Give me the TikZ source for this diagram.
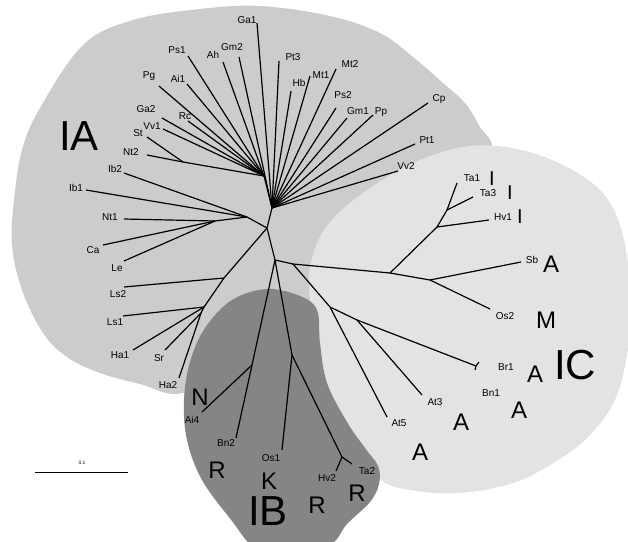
\documentclass[tikz,border=0pt]{standalone}
\usepackage{fontspec}
\setmainfont{Liberation Sans}
\definecolor{regA}{gray}{0.80}
\definecolor{regC}{gray}{0.89}
\definecolor{regB}{gray}{0.52}
\begin{document}
\begin{tikzpicture}[x=1pt, y=-1pt, line width=1.2pt,
  lab/.style={font=\fontsize{10}{10}\selectfont, inner sep=0pt},
  big/.style={font=\fontsize{24}{24}\selectfont, inner sep=0pt},
  bar/.style={font=\fontsize{20}{20}\selectfont, inner sep=0pt},
  grp/.style={font=\fontsize{42}{42}\selectfont, inner sep=0pt}]
\useasboundingbox (0,0) rectangle (628,541);
\clip (0,0) rectangle (628,541);
\fill[regA] plot[smooth cycle, tension=0.6] coordinates {(200,9) (260,6) (330,16) (380,33) (413,57) (443,83) (465,103) (480,127) (492,150) (470,200) (380,250) (335,300) (250,360) (183,393) (140,384) (100,373) (67,357) (43,333) (22,290) (12,245) (14,200) (22,150) (40,108) (83,45) (133,20)};
\fill[regC] plot[smooth cycle, tension=0.6] coordinates {(310,300) (312,258) (330,222) (370,188) (420,160) (470,146) (517,149) (563,165) (600,190) (620,225) (630,280) (630,333) (617,395) (590,435) (555,462) (513,483) (460,493) (410,490) (378,478) (350,440) (325,380)};
\fill[regB] plot[smooth cycle, tension=0.6] coordinates {(184,400) (190,362) (205,328) (232,300) (267,289) (300,296) (317,310) (320,343) (327,383) (347,422) (365,448) (378,466) (379,484) (370,502) (347,524) (330,545) (290,556) (255,548) (232,521) (202,480) (187,440)};
\coordinate (n0) at (267,228);
\coordinate (u1) at (272,208);
\coordinate (u2) at (264,176);
\coordinate (s1) at (183,162);
\coordinate (l1) at (247,217);
\coordinate (l2) at (215,221);
\coordinate (p1) at (224,278);
\coordinate (p2) at (204,307);
\coordinate (p3) at (201,313);
\coordinate (n1) at (275,260);
\coordinate (b1) at (252,365);
\coordinate (b2) at (292,355);
\coordinate (b3) at (342,457);
\coordinate (c0) at (293,264);
\coordinate (c1) at (390,273);
\coordinate (c2) at (437,227);
\coordinate (c2b) at (447,210);
\coordinate (c4) at (430,280);
\coordinate (c3) at (330,307);
\coordinate (c5) at (357,320);
\coordinate (c6) at (476,366);
\draw[](n0) -- (u1);
\draw[](u1) -- (u2);
\draw[](u2) -- (s1);
\draw[](n0) -- (l1);
\draw[](l1) -- (l2);
\draw[](n0) -- (p1);
\draw[](p1) -- (p2);
\draw[](p2) -- (p3);
\draw[](n0) -- (n1);
\draw[](n1) -- (b1);
\draw[](n1) -- (b2);
\draw[](b2) -- (b3);
\draw[](n1) -- (c0);
\draw[](c0) -- (c1);
\draw[](c1) -- (c2);
\draw[](c2) -- (c2b);
\draw[](c1) -- (c4);
\draw[](c0) -- (c3);
\draw[](c3) -- (c5);
\draw[](c5) -- (c6);
\coordinate (tGa1) at (257,23);
\node[lab] (Ga1) at (247,20) {Ga1};
\draw[](u1) -- (tGa1);
\coordinate (tGm2) at (239,57);
\node[lab] (Gm2) at (232,47) {Gm2};
\draw[](u1) -- (tGm2);
\coordinate (tPt3) at (279,61);
\node[lab] (Pt3) at (293,57) {Pt3};
\draw[](u1) -- (tPt3);
\coordinate (tHb) at (291,91);
\node[lab] (Hb) at (299,83) {Hb};
\draw[](u1) -- (tHb);
\coordinate (tMt1) at (310,76);
\node[lab] (Mt1) at (321,75) {Mt1};
\draw[](u1) -- (tMt1);
\coordinate (tMt2) at (336,69);
\node[lab] (Mt2) at (350,64) {Mt2};
\draw[](u1) -- (tMt2);
\coordinate (tPs2) at (336,108);
\node[lab] (Ps2) at (343,95) {Ps2};
\draw[](u1) -- (tPs2);
\coordinate (tGm1) at (347,118);
\node[lab] (Gm1) at (358,111) {Gm1};
\draw[](u1) -- (tGm1);
\coordinate (tPp) at (373,115);
\node[lab] (Pp) at (381,112) {Pp};
\draw[](u1) -- (tPp);
\coordinate (tCp) at (428,103);
\node[lab] (Cp) at (439,99) {Cp};
\draw[](u1) -- (tCp);
\coordinate (tPt1) at (415,144);
\node[lab] (Pt1) at (427,140) {Pt1};
\draw[](u1) -- (tPt1);
\coordinate (tVv2) at (398,171);
\node[lab] (Vv2) at (406,166) {Vv2};
\draw[](u1) -- (tVv2);
\coordinate (tPs1) at (188,56);
\node[lab] (Ps1) at (177,50) {Ps1};
\draw[](u2) -- (tPs1);
\coordinate (tAh) at (223,62);
\node[lab] (Ah) at (213,55) {Ah};
\draw[](u2) -- (tAh);
\coordinate (tAi1) at (187,84);
\node[lab] (Ai1) at (178,79) {Ai1};
\draw[](u2) -- (tAi1);
\coordinate (tPg) at (159,86);
\node[lab] (Pg) at (149,76) {Pg};
\draw[](u2) -- (tPg);
\coordinate (tRc) at (188,121);
\node[lab] (Rc) at (185,116) {Rc};
\draw[](u2) -- (tRc);
\coordinate (tGa2) at (162,118);
\node[lab] (Ga2) at (146,109) {Ga2};
\draw[](u2) -- (tGa2);
\coordinate (tVv1) at (163,129);
\node[lab] (Vv1) at (152,126) {Vv1};
\draw[](u2) -- (tVv1);
\coordinate (tSt) at (147,137);
\node[lab] (St) at (138,133) {St};
\draw[](s1) -- (tSt);
\coordinate (tNt2) at (147,155);
\node[lab] (Nt2) at (131,152) {Nt2};
\draw[](s1) -- (tNt2);
\coordinate (tIb2) at (124,173);
\node[lab] (Ib2) at (115,169) {Ib2};
\draw[](l1) -- (tIb2);
\coordinate (tIb1) at (86,190);
\node[lab] (Ib1) at (76,188) {Ib1};
\draw[](l1) -- (tIb1);
\coordinate (tNt1) at (124,219);
\node[lab] (Nt1) at (110,217) {Nt1};
\draw[](l2) -- (tNt1);
\coordinate (tCa) at (103,245);
\node[lab] (Ca) at (93,250) {Ca};
\draw[](l2) -- (tCa);
\coordinate (tLe) at (124,261);
\node[lab] (Le) at (117,268) {Le};
\draw[](l2) -- (tLe);
\coordinate (tLs2) at (124,287);
\node[lab] (Ls2) at (118,294) {Ls2};
\draw[](p1) -- (tLs2);
\coordinate (tLs1) at (123,316);
\node[lab] (Ls1) at (115,322) {Ls1};
\draw[](p2) -- (tLs1);
\coordinate (tHa1) at (133,350);
\node[lab] (Ha1) at (120,355) {Ha1};
\draw[](p2) -- (tHa1);
\coordinate (tSr) at (165,350);
\node[lab] (Sr) at (159,358) {Sr};
\draw[](p3) -- (tSr);
\coordinate (tHa2) at (179,378);
\node[lab] (Ha2) at (168,385) {Ha2};
\draw[](p3) -- (tHa2);
\coordinate (tAi4) at (202,412);
\node[lab] (Ai4) at (192,420) {Ai4};
\draw[](b1) -- (tAi4);
\coordinate (tBn2) at (236,438);
\node[lab] (Bn2) at (226,443) {Bn2};
\draw[](b1) -- (tBn2);
\coordinate (tOs1) at (282,450);
\node[lab] (Os1) at (271,458) {Os1};
\draw[](b2) -- (tOs1);
\coordinate (tHv2) at (336,471);
\node[lab] (Hv2) at (327,478) {Hv2};
\draw[](b3) -- (tHv2);
\coordinate (tTa2) at (352,464);
\node[lab] (Ta2) at (367,471) {Ta2};
\draw[](b3) -- (tTa2);
\coordinate (tAt5) at (387,417);
\node[lab] (At5) at (399,423) {At5};
\draw[](c3) -- (tAt5);
\coordinate (tAt3) at (422,395);
\node[lab] (At3) at (435,402) {At3};
\draw[](c5) -- (tAt3);
\coordinate (tBr1) at (479,362);
\node[lab] (Br1) at (506,367) {Br1};
\draw[](c6) -- (tBr1);
\coordinate (tBn1) at (475,370);
\node[lab] (Bn1) at (491,393) {Bn1};
\draw[](c6) -- (tBn1);
\coordinate (tOs2) at (490,309);
\node[lab] (Os2) at (505,316) {Os2};
\draw[](c4) -- (tOs2);
\coordinate (tSb) at (521,262);
\node[lab] (Sb) at (532,260) {Sb};
\draw[](c4) -- (tSb);
\coordinate (tTa1) at (457,183);
\node[lab] (Ta1) at (472,178) {Ta1};
\draw[](c2b) -- (tTa1);
\coordinate (tTa3) at (473,197);
\node[lab] (Ta3) at (488,193) {Ta3};
\draw[](c2b) -- (tTa3);
\coordinate (tHv1) at (489,220);
\node[lab] (Hv1) at (503,217) {Hv1};
\draw[](c2) -- (tHv1);
\node[bar] (kTa1) at (492,179) {I};
\node[bar] (kTa3) at (510,193) {I};
\node[bar] (kHv1) at (520,217) {I};
\node[big] (kSb) at (551,264) {A};
\node[big] (kOs2) at (546,320) {M};
\node[big] (kBr1) at (535,374) {A};
\node[big] (kBn1) at (519,410) {A};
\node[big] (kAt3) at (461,422) {A};
\node[big] (kAt5) at (420,452) {A};
\node[big] (kTa2) at (357,493) {R};
\node[big] (kHv2) at (317,505) {R};
\node[big] (kOs1) at (269,481) {K};
\node[big] (kBn2) at (217,470) {R};
\node[big] (kAi4) at (200,397) {N};
\node[grp] (gIA) at (79,136) {IA};
\node[grp] (gIC) at (575,365) {IC};
\node[grp] (gIB) at (268,511) {IB};
\coordinate (sb0) at (35,472);
\coordinate (sb1) at (128,472);
\draw[line width=0.8pt](sb0) -- (sb1);
\node[font=\fontsize{5}{5}\selectfont, inner sep=0pt] (sbl) at (82,463) {0.1};
\end{tikzpicture}
\end{document}
